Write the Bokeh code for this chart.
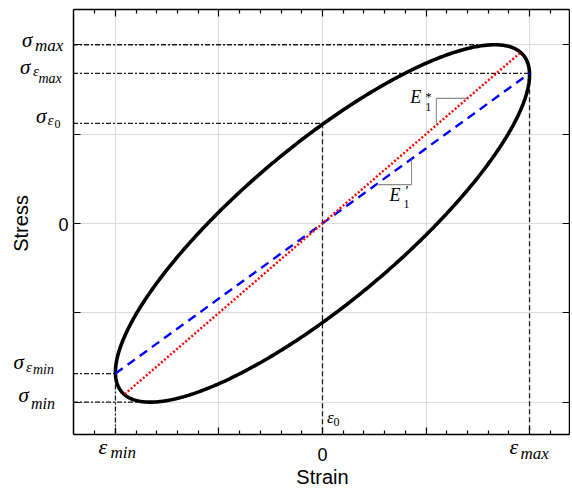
import numpy as np
from bokeh.plotting import figure
from bokeh.models import FixedTicker, LinearAxis, Label, Grid
from bokeh.embed import file_html
from bokeh.resources import INLINE

# ---- data (strain normalised so eps_max = 1, stress so sigma_max = 1)
x_ticks = [-1.0, -0.5, 0.0, 0.5, 1.0]
x_minor_ticks = [-1.1, -0.9, -0.8, -0.7, -0.6, -0.4, -0.3, -0.2, -0.1,
                 0.1, 0.2, 0.3, 0.4, 0.6, 0.7, 0.8, 0.9, 1.1]
y_ticks = [-1.0, -0.5, 0.0, 0.5, 1.0]

eps_min, eps_0, eps_max = -1.0, 0.0, 1.0
sig_max, sig_min = 1.0, -1.0
sig_eps_max, sig_eps0, sig_eps_min = 0.84, 0.56, -0.84
eps_at_sig_max, eps_at_sig_min = 0.82, -0.82
secant_end = 0.955          # where the red E1* line meets the loop

tri_star_x = [0.55, 0.55, 0.70]
tri_star_y = [0.55, 0.70, 0.70]
tri_prime_x = [0.265, 0.43, 0.43]
tri_prime_y = [0.217, 0.217, 0.358]

# visible axes box (data units)
X0, X1 = -1.205, 1.193
Y0, Y1 = -1.181, 1.2

# loop: eps = eps_a sin(wt), sigma = sig_a sin(wt + delta)
delta = np.arctan2(sig_eps0, sig_eps_max)
theta = np.linspace(0, 2 * np.pi, 721)
loop_x = eps_max * np.sin(theta)
loop_y = sig_max * np.sin(theta + delta)

SERIF = "Liberation Serif"
SANS = "Liberation Sans"

# ---- layout: the frame fills the canvas, the axes are fixed on the box edges
W, H = 570, 488
BOX_L, BOX_R, BOX_T, BOX_B = 72.5, 569, 8.5, 434      # box edges in canvas px
sx = (BOX_R - BOX_L) / (X1 - X0)
sy = (BOX_B - BOX_T) / (Y1 - Y0)
x_range = (X0 - BOX_L / sx, X1 + (W - BOX_R) / sx)
y_range = (Y0 - (H - BOX_B) / sy, Y1 + BOX_T / sy)

p = figure(width=W, height=H, x_range=x_range, y_range=y_range,
           output_backend="svg", toolbar_location=None, min_border=0,
           min_border_left=0, min_border_right=0, min_border_top=0, min_border_bottom=0)
p.background_fill_color = "white"
p.border_fill_color = "white"
p.outline_line_color = None

# grids limited to the box
p.xgrid.ticker = FixedTicker(ticks=x_ticks)
p.ygrid.ticker = FixedTicker(ticks=y_ticks)
has_cross = "cross_bounds" in Grid.properties()
for g in (p.xgrid, p.ygrid):
    g.grid_line_color = "#dcdcdc"
    g.grid_line_width = 1
if has_cross:
    p.xgrid.cross_bounds = (Y0, Y1)
    p.ygrid.cross_bounds = (X0, X1)
else:
    p.xgrid.visible = False
    p.ygrid.visible = False
    p.segment(x0=x_ticks, y0=[Y0] * len(x_ticks), x1=x_ticks, y1=[Y1] * len(x_ticks),
              line_color="#dcdcdc", line_width=1, level="underlay")
    p.segment(x0=[X0] * len(y_ticks), y0=y_ticks, x1=[X1] * len(y_ticks), y1=y_ticks,
              line_color="#dcdcdc", line_width=1, level="underlay")

def style_axis(ax, ticks, minor, bounds, loc):
    ax.ticker = FixedTicker(ticks=ticks, minor_ticks=minor)
    ax.fixed_location = loc
    ax.bounds = bounds
    ax.major_tick_in = 7
    ax.major_tick_out = 0
    ax.minor_tick_in = 4
    ax.minor_tick_out = 0
    ax.axis_line_color = "black"
    ax.axis_line_width = 1.5
    ax.major_tick_line_color = "black"
    ax.minor_tick_line_color = "black" if minor else None
    ax.major_tick_line_width = 1.2
    ax.minor_tick_line_width = 1.2
    ax.major_label_overrides = {t: "" for t in ticks}
    ax.major_label_text_font_size = "0px"
    ax.major_label_standoff = 0
    ax.axis_label = None

style_axis(p.xaxis[0], x_ticks, x_minor_ticks, (X0, X1), Y0)
style_axis(p.yaxis[0], y_ticks, [], (Y0, Y1), X0)
top = LinearAxis()
style_axis(top, x_ticks, x_minor_ticks, (X0, X1), Y1)
p.add_layout(top, "above")
right = LinearAxis()
style_axis(right, y_ticks, [], (Y0, Y1), X1)
p.add_layout(right, "right")

# reference lines
DASHDOT = "5 2 2 2"
DASH = "5 3"
ref_kw = dict(line_color="#1a1a1a", line_width=1.3)
p.line([X0, eps_at_sig_max], [sig_max, sig_max], line_dash=DASHDOT, **ref_kw)
p.line([X0, eps_max], [sig_eps_max, sig_eps_max], line_dash=DASHDOT, **ref_kw)
p.line([X0, eps_0], [sig_eps0, sig_eps0], line_dash=DASHDOT, **ref_kw)
p.line([X0, eps_min], [sig_eps_min, sig_eps_min], line_dash=DASHDOT, **ref_kw)
p.line([X0, eps_at_sig_min], [sig_min, sig_min], line_dash=DASHDOT, **ref_kw)
p.line([eps_0, eps_0], [sig_eps0, Y0], line_dash=DASH, **ref_kw)
p.line([eps_max, eps_max], [sig_eps_max, Y0], line_dash=DASH, **ref_kw)
p.line([eps_min, eps_min], [sig_eps_min, Y0], line_dash=DASHDOT, **ref_kw)

# loop
p.line(loop_x, loop_y, line_color="black", line_width=3.6)

# moduli lines
p.line([eps_min, eps_max], [sig_eps_min, sig_eps_max], line_color="#0000ff",
       line_width=2.4, line_dash="9 6")
p.line([-secant_end, secant_end], [-secant_end, secant_end], line_color="#ff0000",
       line_width=2.4, line_dash="2 2")

# slope triangles
p.line(tri_star_x, tri_star_y, line_color="#8c8c8c", line_width=1.1)
p.line(tri_prime_x, tri_prime_y, line_color="#8c8c8c", line_width=1.1)

BASE_FIX = 0.32   # the label box sits lower than the alphabetic baseline; lift it

def math_label(x, y, pieces):
    for txt, size, dx, dy, style in pieces:
        p.add_layout(Label(x=x, y=y, x_offset=dx, y_offset=dy + BASE_FIX * size, text=txt,
                           text_font=SERIF, text_font_style=style,
                           text_font_size=f"{size}px", text_color="black",
                           text_align="left", text_baseline="alphabetic"))

I, N = "italic", "normal"
# stress tick labels
math_label(X0, sig_max, [("σ", 21, -51, -1.5, I), ("max", 17, -38, -6, I)])
math_label(X0, sig_eps_max, [("σ", 21, -53, 0, I), ("ε", 15, -40, -2, I), ("max", 14, -34.5, -10, I)])
math_label(X0, sig_eps0, [("σ", 21, -37, 1, I), ("ε", 15, -25.5, -1.5, I), ("0", 12, -18.5, -4, N)])
math_label(X0, sig_eps_min, [("σ", 21, -59.5, 5, I), ("ε", 15, -47, 1.5, I), ("min", 14, -40, 0, I)])
math_label(X0, sig_min, [("σ", 21, -54.5, 0, I), ("min", 16, -42, -6, I)])
# strain tick labels
math_label(eps_min, Y0, [("ε", 22, -17, -19, I), ("min", 17, -5, -23, I)])
math_label(eps_max, Y0, [("ε", 22, -20, -19, I), ("max", 17, -9, -24, I)])
math_label(eps_0, Y0, [("ε", 17, 4.5, 12, I), ("0", 12, 11, 9, N)])
# slope labels
math_label(tri_star_x[1], tri_star_y[1], [("E", 18, -26, -4.3, I), ("1", 12, -11, -12.3, N), ("*", 13, -11, -2.5, N)])
math_label(tri_prime_x[1], tri_prime_y[1], [("E", 18, -22, -15.7, I), ("1", 12, -8, -22.7, N), ("′", 15, -6, -11, N)])

# plain tick labels "0" and axis titles
lab_kw = dict(text_font=SANS, text_color="black")
p.add_layout(Label(x=X0, y=0, x_offset=-4.5, y_offset=-1, text="0",
                   text_font_size="18px", text_align="right", text_baseline="middle", **lab_kw))
p.add_layout(Label(x=0, y=Y0, x_offset=0, y_offset=-26 + BASE_FIX * 18, text="0",
                   text_font_size="18px", text_align="center", text_baseline="alphabetic", **lab_kw))
p.add_layout(Label(x=0, y=Y0, x_offset=0, y_offset=-49 + BASE_FIX * 20, text="Strain",
                   text_font_size="20px", text_align="center", text_baseline="alphabetic", **lab_kw))
p.add_layout(Label(x=X0, y=0, x_offset=-52, y_offset=0, text="Stress",
                   text_font_size="20px", text_align="center", text_baseline="middle",
                   angle=np.pi / 2, **lab_kw))

open("out.html", "w").write(file_html(p, INLINE))
